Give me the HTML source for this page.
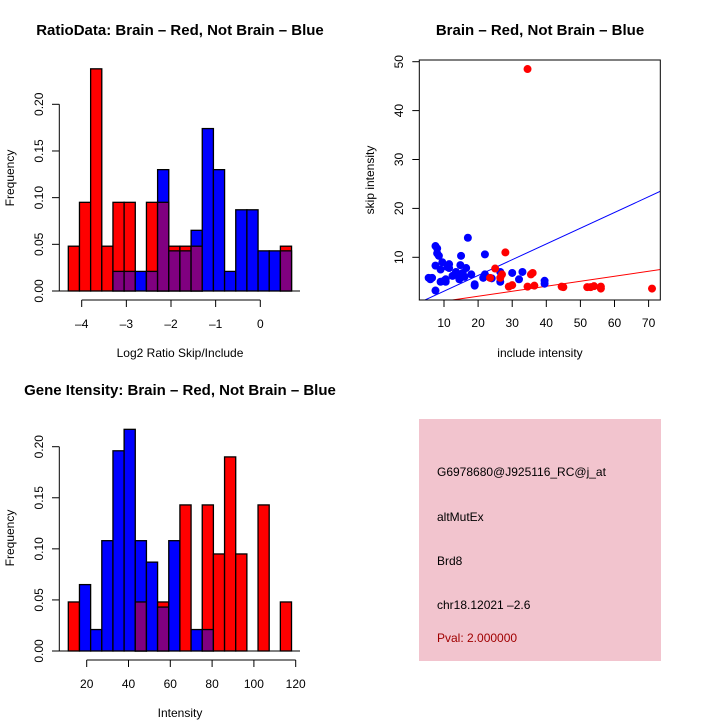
<!DOCTYPE html>
<html><head><meta charset="utf-8"><style>
body{margin:0;background:#fff}
svg{display:block;font-family:"Liberation Sans",sans-serif}
</style></head><body>
<svg id="s" width="720" height="720" viewBox="0 0 720 720">
<rect width="720" height="720" fill="#fff"/>
<text x="180" y="35" text-anchor="middle" font-weight="bold" font-size="15">RatioData: Brain – Red, Not Brain – Blue</text>
<text x="540" y="35" text-anchor="middle" font-weight="bold" font-size="15">Brain – Red, Not Brain – Blue</text>
<text x="180" y="395" text-anchor="middle" font-weight="bold" font-size="15">Gene Itensity: Brain – Red, Not Brain – Blue</text>
<text x="180" y="357" text-anchor="middle" font-size="12">Log2 Ratio Skip/Include</text>
<text x="540" y="357" text-anchor="middle" font-size="12">include intensity</text>
<text x="180" y="717" text-anchor="middle" font-size="12">Intensity</text>
<text transform="translate(14,178) rotate(-90)" text-anchor="middle" font-size="12">Frequency</text>
<text transform="translate(14,538) rotate(-90)" text-anchor="middle" font-size="12">Frequency</text>
<text transform="translate(374,180) rotate(-90)" text-anchor="middle" font-size="12">skip intensity</text>
<g>
<rect x="419" y="419" width="242" height="242" fill="#f2c4ce"/>
<text x="437" y="476" font-size="12">G6978680@J925116_RC@j_at</text>
<text x="437" y="521" font-size="12">altMutEx</text>
<text x="437" y="565" font-size="12">Brd8</text>
<text x="437" y="609" font-size="12">chr18.12021 –2.6</text>
<text x="437" y="642" font-size="12" fill="#a00000">Pval: 2.000000</text>
</g>
<g id="g1"></g><g id="g2"></g><g id="g3"></g>
</svg>
<script>
// Ratio histogram data
const ratioStart = -4.3, ratioWidth = 0.25;
const ratioRed  = [.048,.095,.238,.048,.095,.095,0,.095,.095,.048,.048,.048,0,0,0,0,0,0,0,.048];
const ratioBlue = [0,0,0,0,.021,.021,.021,.021,.130,.043,.043,.065,.174,.130,.021,.087,.087,.043,.043,.043];
const ratioXTicks = [-4,-3,-2,-1,0];
const freqTicks = [0,0.05,0.10,0.15,0.20];
const freqTickLabels = ["0.00","0.05","0.10","0.15","0.20"];
// Intensity histogram data
const intStart = 11.2, intWidth = 5.34;
const intRed  = [.048,0,0,0,0,0,.048,0,.048,0,.143,0,.143,.095,.190,.095,0,.143,0,.048];
const intBlue = [0,.065,.021,.108,.196,.217,.108,.087,.043,.108,0,.021,.021,0,0,0,0,0,0,0];
const intXTicks = [20,40,60,80,100,120];
// Scatter data
const blueX = [5.5,6,6.5,7.5,7.5,7.5,8,8,8.5,9,9,9.5,10,10.5,10.5,11,11.5,11.5,12.5,13.5,14,14.5,14.8,15,15.5,16,16.5,17,18,19,19,21.5,22,22,24,26.5,26.5,30,32,33,39.5,39.5];
const blueY = [5.8,5.5,5.8,8.3,3.2,12.3,11.8,10.8,10.3,7.5,5,9,5.2,5.5,5,8,7.8,8.6,6.2,7,6.5,5.5,8.4,10.3,6.8,6,7.8,14,6.5,4.2,4.5,5.8,6.5,10.6,5.7,7,5,6.8,5.5,7,5.2,4.6];
const redX = [34.5,28,25,23.5,26.5,27,29,30,34.5,35.5,36,36.5,45,44.5,52,53,54,56,56,71];
const redY = [48.5,11,7.7,5.8,5.8,6.5,4,4.3,4,6.5,6.8,4.2,3.9,4,3.9,3.9,4.1,3.6,4,3.6];
const blueFit = [-0.15,0.322];
const redFit = [0.0,0.102];
const scXTicks = [10,20,30,40,50,60,70];
const scYTicks = [10,20,30,40,50];

const NS="http://www.w3.org/2000/svg";
function mk(p,tag,a){const e=document.createElementNS(NS,tag);for(const k in a)e.setAttribute(k,a[k]);p.appendChild(e);return e;}

function hist(g,start,w,red,blue,xs,ys,xTicks,yBase,yTop,xAxisY,pre){
  mk(g,'line',{x1:52,x2:300,y1:ys(0),y2:ys(0),stroke:'#000'});
  red.forEach((v,i)=>{
    const x0=xs(start+i*w),x1=xs(start+(i+1)*w);
    const m=Math.min(v,blue[i]);
    const top=Math.max(v,blue[i]);
    if(top<=0)return;
    if(v>0){const r=mk(g,'rect',{x:x0,y:ys(v),width:x1-x0,height:ys(0)-ys(v),fill:'#ff0000',stroke:'#000','stroke-width':1.3});
      
      }
    if(blue[i]>0){const b=mk(g,'rect',{x:x0,y:ys(blue[i]),width:x1-x0,height:ys(0)-ys(blue[i]),fill:(v>0?'#800080':'#0000ff'),stroke:'#000','stroke-width':1.3});
      
      
      if(v>0&&blue[i]>v){b.setAttribute('fill','#0000ff');
        const p=mk(g,'rect',{x:x0,y:ys(m),width:x1-x0,height:ys(0)-ys(m),fill:'#800080',stroke:'#000','stroke-width':1.3});
        
        }
    }
  });
  mk(g,'line',{x1:59.3,x2:59.3,y1:ys(0),y2:ys(0.2),stroke:'#000'});
  freqTicks.forEach((t,i)=>{
    mk(g,'line',{x1:52,x2:59.3,y1:ys(t),y2:ys(t),stroke:'#000'});
    const tx=mk(g,'text',{transform:`translate(43,${ys(t)}) rotate(-90)`,'text-anchor':'middle','font-size':12});
    tx.textContent=freqTickLabels[i];
    
    
  });
  mk(g,'line',{x1:xs(xTicks[0]),x2:xs(xTicks[xTicks.length-1]),y1:xAxisY,y2:xAxisY,stroke:'#000'});
  xTicks.forEach(t=>{
    mk(g,'line',{x1:xs(t),x2:xs(t),y1:xAxisY,y2:xAxisY+7,stroke:'#000'});
    const tx=mk(g,'text',{x:xs(t),y:xAxisY+28,'text-anchor':'middle','font-size':12});
    tx.textContent=(t<0?'–'+(-t):String(t));
    
    
  });
}
const g1=document.getElementById('g1');


hist(g1,ratioStart,ratioWidth,ratioRed,ratioBlue,v=>260.3+v*44.65,f=>291-f*933.5,ratioXTicks,0,0,300,'ratio-');
const g3=document.getElementById('g3');


hist(g3,intStart,intWidth,intRed,intBlue,v=>86.7+(v-20)*2.09,f=>651-f*1021.5,intXTicks,0,0,660,'intensity-');

const g2=document.getElementById('g2');


const sx=v=>409.9+v*3.41, sy=v=>306.2-v*4.89;
const L=419.3,R=660.3,T=60,B=300;
const cp=mk(g2,'clipPath',{id:'cp'});
mk(cp,'rect',{x:L,y:T,width:R-L,height:B-T});
const cg=mk(g2,'g',{'clip-path':'url(#cp)'});
[[blueFit,'#0000ff','blue-fit-line'],[redFit,'#ff0000','red-fit-line']].forEach(([f,c,n])=>{
  const x0=0,x1=80;
  const l=mk(cg,'line',{x1:sx(x0),y1:sy(f[0]+f[1]*x0),x2:sx(x1),y2:sy(f[0]+f[1]*x1),stroke:c,'stroke-width':1});
  
  
});
blueX.forEach((x,i)=>{const c=mk(cg,'circle',{cx:sx(x),cy:sy(blueY[i]),r:4,fill:'#0000ff'});
  
  });
redX.forEach((x,i)=>{const c=mk(cg,'circle',{cx:sx(x),cy:sy(redY[i]),r:4,fill:'#ff0000'});
  
  });
mk(g2,'rect',{x:L,y:T,width:R-L,height:B-T,fill:'none',stroke:'#000'});
scXTicks.forEach(t=>{mk(g2,'line',{x1:sx(t),x2:sx(t),y1:B,y2:B+7,stroke:'#000'});
  const tx=mk(g2,'text',{x:sx(t),y:B+27,'text-anchor':'middle','font-size':12});tx.textContent=t;
  
  });
scYTicks.forEach(t=>{mk(g2,'line',{x1:L-7,x2:L,y1:sy(t),y2:sy(t),stroke:'#000'});
  const tx=mk(g2,'text',{transform:`translate(403,${sy(t)}) rotate(-90)`,'text-anchor':'middle','font-size':12});tx.textContent=t;
  
  });
</script>
</body></html>
